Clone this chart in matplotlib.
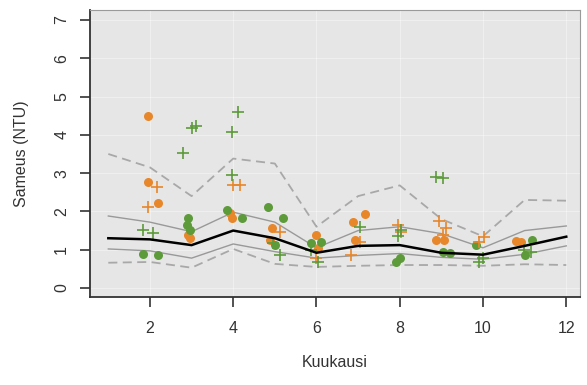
import numpy as np
import matplotlib.pyplot as plt

plt.rcParams['font.family'] = ['Liberation Sans', 'DejaVu Sans']

months = np.arange(1, 13)
median = [1.3, 1.27, 1.12, 1.5, 1.3, 0.92, 1.1, 1.12, 0.92, 0.87, 1.1, 1.34]
q75 = [1.88, 1.72, 1.47, 1.98, 1.72, 1.05, 1.5, 1.6, 1.42, 1.05, 1.5, 1.62]
q25 = [1.02, 0.97, 0.78, 1.15, 0.95, 0.78, 0.85, 0.9, 0.8, 0.75, 0.88, 1.1]
q90 = [3.5, 3.15, 2.4, 3.38, 3.25, 1.6, 2.4, 2.68, 1.8, 1.35, 2.3, 2.28]
q10 = [0.66, 0.68, 0.53, 1.02, 0.63, 0.55, 0.58, 0.6, 0.6, 0.58, 0.62, 0.6]

# havainnot: (kuukausi, sameus)
orange_dot_x = [1.95, 1.95, 2.19, 2.91, 2.96, 3.92, 3.97, 4.93, 4.88, 5.98, 6.03,
                6.87, 7.16, 6.92, 8.88, 9.07, 10.8, 10.92]
orange_dot_y = [4.49, 2.77, 2.22, 1.38, 1.31, 1.96, 1.83, 1.57, 1.25, 1.38, 1.04,
                1.72, 1.93, 1.25, 1.25, 1.25, 1.23, 1.2]
orange_plus_x = [2.17, 1.95, 3.99, 4.16, 5.12, 5.98, 7.04, 6.84, 7.95, 8.04,
                 8.95, 9.1, 9.05, 10.03, 9.91]
orange_plus_y = [2.64, 2.11, 2.69, 2.69, 1.46, 0.78, 1.2, 0.86, 1.64, 1.46,
                 1.75, 1.57, 1.38, 1.33, 1.2]
green_dot_x = [1.83, 2.19, 2.91, 2.89, 2.96, 3.85, 4.2, 4.83, 5.19, 5.0, 5.86,
               6.12, 8.0, 7.9, 9.05, 9.2, 9.82, 11.18, 11.0]
green_dot_y = [0.89, 0.86, 1.83, 1.64, 1.51, 2.04, 1.83, 2.11, 1.83, 1.12, 1.17,
               1.2, 0.78, 0.68, 0.94, 0.91, 1.12, 1.25, 0.86]
green_plus_x = [1.83, 2.07, 3.01, 3.1, 2.79, 4.11, 3.97, 3.97, 4.95, 5.12, 6.03,
                5.88, 7.04, 8.04, 7.95, 8.88, 9.05, 9.91, 10.0, 10.99, 11.16]
green_plus_y = [1.51, 1.44, 4.18, 4.23, 3.52, 4.6, 4.07, 2.95, 1.17, 0.86, 0.68,
                0.99, 1.59, 1.51, 1.36, 2.9, 2.87, 0.68, 0.78, 0.99, 0.94]

orange = '#e8862a'
green = '#5c9a3a'

fig = plt.figure(figsize=(5.87, 3.85), dpi=100)
ax = fig.add_axes([90/587, 1-297/385, 490/587, 287/385])
ax.set_facecolor('#e6e6e6')

ax.set_xticks([2, 4, 6, 8, 10, 12])
ax.set_yticks(range(0, 8))
ax.grid(True, color='white', lw=0.8, alpha=0.4, zorder=0)
ax.set_axisbelow(True)

ax.plot(months, q90, color='#a8a8a8', lw=1.3, ls=(0, (5, 3)), zorder=2)
ax.plot(months, q10, color='#a8a8a8', lw=1.3, ls=(0, (5, 3)), zorder=2)
ax.plot(months, q75, color='#999999', lw=1.0, zorder=2)
ax.plot(months, q25, color='#999999', lw=1.0, zorder=2)

ax.scatter(orange_dot_x, orange_dot_y, s=42, color=orange, zorder=3, lw=0)
ax.scatter(green_dot_x, green_dot_y, s=42, color=green, zorder=3, lw=0)
ax.scatter(orange_plus_x, orange_plus_y, s=85, marker='+', color=orange, lw=1.2, zorder=3)
ax.scatter(green_plus_x, green_plus_y, s=85, marker='+', color=green, lw=1.2, zorder=3)

ax.plot(months, median, color='black', lw=1.8, zorder=4)

ax.set_xlim(0.56, 12.33)
ax.set_ylim(-0.235, 7.26)

for s in ['top', 'right']:
    ax.spines[s].set_color('#9a9a9a')
for s in ['left', 'bottom']:
    ax.spines[s].set_color('#333333')
    ax.spines[s].set_linewidth(1.3)

ax.tick_params(axis='both', direction='out', length=7, width=1.2,
               color='#333333', labelsize=11.5, labelcolor='#333333')
ax.tick_params(axis='x', pad=10)
ax.tick_params(axis='y', pad=8)
for lbl in ax.get_yticklabels():
    lbl.set_rotation(90)
    lbl.set_va('center')

ax.set_xlabel('Kuukausi', fontsize=11.5, color='#333333', labelpad=14)
ax.set_ylabel('Sameus (NTU)', fontsize=11.5, color='#333333', labelpad=18)

fig.savefig('out.png', dpi=100)
